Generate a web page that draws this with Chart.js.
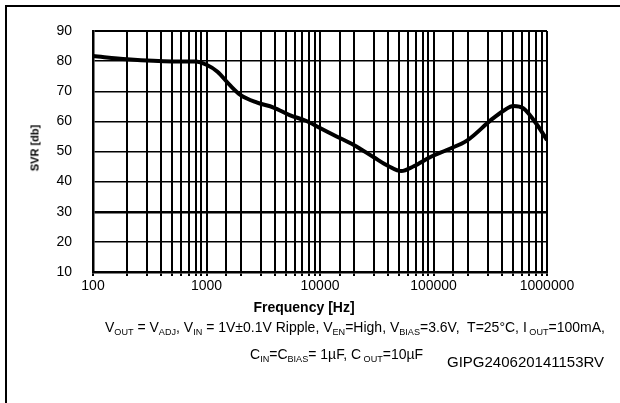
<!DOCTYPE html>
<html>
<head>
<meta charset="utf-8">
<script src="https://cdn.jsdelivr.net/npm/chart.js@4/dist/chart.umd.min.js"></script>
<style>
  html, body { margin: 0; padding: 0; background: #fff; }
  #wrap { position: relative; width: 620px; height: 403px; overflow: hidden; font-family: "Liberation Sans", Arial, sans-serif; color: #000; }
  canvas { position: absolute; left: 0; top: 0; }
  .t { position: absolute; white-space: nowrap; line-height: 1; }
  sub { font-size: 65%; vertical-align: -0.35em; line-height: 0; }
</style>
</head>
<body>
<div id="wrap">
  <canvas id="c" width="620" height="403"></canvas>
  <div style="position:absolute;left:5px;top:5px;width:2px;height:398px;background:#000"></div>
  <div style="position:absolute;left:5px;top:5px;width:615px;height:2px;background:#000"></div>
  <div class="t" style="left:35px;top:148px;font-size:11px;font-weight:bold;transform:translate(-50%,-50%) rotate(-90deg);">SVR [db]</div>
  <div class="t" style="left:304px;top:307px;font-size:14px;font-weight:bold;transform:translate(-50%,-50%);">Frequency [Hz]</div>
  <div class="t" style="left:105px;top:320px;font-size:14px;">V<sub>OUT</sub> = V<sub>ADJ</sub>, V<sub>IN</sub> = 1V±0.1V Ripple, V<sub>EN</sub>=High, V<sub>BIAS</sub>=3.6V,&nbsp; T=25°C, I<sub> OUT</sub>=100mA,</div>
  <div class="t" style="left:250px;top:347px;font-size:14px;">C<sub>IN</sub>=C<sub>BIAS</sub>= 1µF, C<sub> OUT</sub>=10µF</div>
  <div class="t" style="left:447px;top:354px;font-size:15px;">GIPG240620141153RV</div>
</div>
<script>
const freqHz = [100, 200, 500, 800, 1000, 1250, 1600, 2000, 2800, 3900, 5400, 7500, 10000, 14000, 20000, 30000, 40000, 52000, 67000, 94000, 131000, 200000, 320000, 420000, 505000, 620000, 820000, 1000000];
const svrDb = [81.7, 80.6, 79.9, 79.9, 78.8, 76.5, 72.1, 68.7, 66.2, 64.6, 62.1, 60.2, 57.8, 55.0, 52.1, 48.0, 45.2, 43.5, 45.1, 48.2, 50.5, 53.8, 60.4, 63.7, 65.1, 64.3, 58.8, 53.8];
const xMin = 100, xMax = 1000000;
const yMin = 10, yMax = 90, yStep = 10;

const points = freqHz.map((f, i) => ({ x: f, y: svrDb[i] }));

new Chart(document.getElementById('c'), {
  type: 'line',
  data: {
    datasets: [{
      data: points,
      borderColor: '#000',
      borderWidth: 4,
      pointRadius: 0,
      fill: false,
      cubicInterpolationMode: 'monotone'
    }]
  },
  options: {
    responsive: false,
    animation: false,
    events: [],
    layout: { padding: { top: 31, right: 73, left: 0, bottom: 0 } },
    plugins: { legend: { display: false }, tooltip: { enabled: false }, title: { display: false } },
    scales: {
      x: {
        type: 'logarithmic',
        min: xMin, max: xMax,
        afterFit: s => { s.height = 131; },
        border: { display: true, color: '#000', width: 2.5 },
        grid: {
          color: '#000',
          lineWidth: 2,
          drawTicks: true,
          tickLength: 4,
          tickColor: '#000'
        },
        ticks: {
          autoSkip: false,
          maxRotation: 0,
          padding: 2,
          color: '#000',
          font: { family: '"Liberation Sans", Arial, sans-serif', size: 14 },
          callback: v => {
            const l = Math.log10(v);
            return Math.abs(l - Math.round(l)) < 1e-9 ? String(v) : '';
          }
        }
      },
      y: {
        min: yMin, max: yMax,
        afterFit: s => { s.width = 93; },
        border: { display: true, color: '#000', width: 2.5 },
        grid: {
          color: '#000',
          drawTicks: false,
          lineWidth: ctx => (ctx.tick && ctx.tick.value === 30) ? 2.5 : (ctx.tick && ctx.tick.value === 90 ? 2 : 1.5)
        },
        ticks: {
          stepSize: yStep,
          padding: 21,
          color: '#000',
          font: { family: '"Liberation Sans", Arial, sans-serif', size: 14 }
        }
      }
    }
  }
});
</script>
</body>
</html>
